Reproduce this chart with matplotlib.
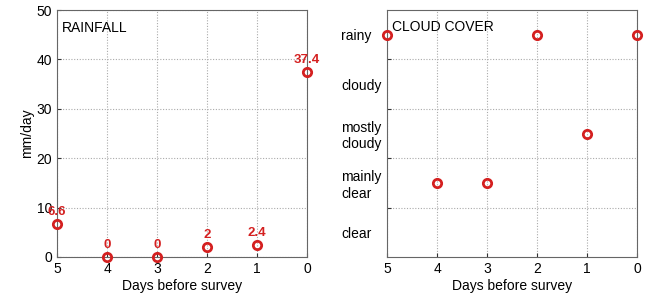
import matplotlib
matplotlib.use("Agg")
import matplotlib.pyplot as plt

plt.rcParams['font.family'] = ['Liberation Sans', 'DejaVu Sans']

days = [5, 4, 3, 2, 1, 0]
rainfall = [6.6, 0, 0, 2, 2.4, 37.4]
rain_labels = ['6.6', '0', '0', '2', '2.4', '37.4']
cloud_levels = ['clear', 'mainly\nclear', 'mostly\ncloudy', 'cloudy', 'rainy']
cloud_obs = ['rainy', 'mainly\nclear', 'mainly\nclear', 'rainy', 'mostly\ncloudy', 'rainy']
x_ticks = [5, 4, 3, 2, 1, 0]
y_ticks_rain = [0, 10, 20, 30, 40, 50]

red = '#d42020'
W, H = 645, 295
fig = plt.figure(figsize=(6.45, 2.95), dpi=100)

def style(ax):
    ax.set_xlim(5, 0)
    ax.set_xticks(x_ticks)
    ax.tick_params(direction='in', length=3, labelsize=10, colors='#333333', labelcolor='black')
    for s in ax.spines.values():
        s.set_color('#666666')
        s.set_linewidth(0.8)
    ax.set_xlabel('Days before survey', fontsize=10, labelpad=2)
    ax.grid(True, linestyle=(0, (1, 1.5)), color='#aaaaaa', linewidth=0.8)

ax1 = fig.add_axes([57 / W, (H - 257) / H, 250 / W, 247 / H])
style(ax1)
ax1.set_ylim(0, 50)
ax1.set_yticks(y_ticks_rain)
ax1.plot(days, rainfall, 'o', mfc='none', mec=red, mew=2, ms=6, clip_on=False, zorder=5)
for d, r, lab in zip(days, rainfall, rain_labels):
    ax1.annotate(lab, (d, r), xytext=(0, 4.5), textcoords='offset points', ha='center', va='bottom',
                 color=red, fontsize=9.5, fontweight='bold', annotation_clip=False, zorder=6)
ax1.set_ylabel('mm/day', fontsize=10, labelpad=2)
ax1.text(0.02, 0.955, 'RAINFALL', transform=ax1.transAxes, ha='left', va='top', fontsize=10)

ax2 = fig.add_axes([387 / W, (H - 257) / H, 250 / W, 247 / H])
style(ax2)
ax2.set_ylim(0, len(cloud_levels))
ax2.set_yticks(range(1, len(cloud_levels)))
ax2.set_yticklabels([])
ax2.set_yticks([i + 0.5 for i in range(len(cloud_levels))], minor=True)
ax2.set_yticklabels(cloud_levels, minor=True, fontsize=10, ha='left')
ax2.tick_params(axis='y', which='minor', length=0, pad=33)
yvals = [cloud_levels.index(c) + 0.5 for c in cloud_obs]
ax2.plot(days, yvals, 'o', mfc='none', mec=red, mew=2, ms=6, clip_on=False, zorder=5)
ax2.text(0.02, 0.96, 'CLOUD COVER', transform=ax2.transAxes, ha='left', va='top', fontsize=10)

fig.savefig('out.png', dpi=100)
